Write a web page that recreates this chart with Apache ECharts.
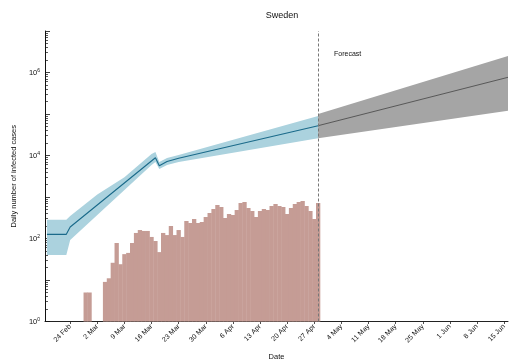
<!DOCTYPE html>
<html>
<head>
<meta charset="utf-8">
<script src="https://cdn.jsdelivr.net/npm/echarts@6/dist/echarts.min.js"></script>
<style>
  html, body { margin: 0; padding: 0; background: #fff; }
  #chart { width: 509px; height: 361px; }
</style>
</head>
<body>
<div id="chart"></div>
<script>
// Daily confirmed cases, one value per day starting at firstCaseDay (null = nothing to draw)
const firstCaseDay = '2020-02-28';
const dailyCases = [
  5, 5, null, null, null,
  9, 11, 26, 78, 24, 42, 45, 78, 136, 160,
  152, 152, 109, 87, 47, 136, 121, 200, 121, 160,
  109, 264, 236, 295, 236, 250, 330, 412, 514, 642,
  574, 312, 389, 368, 486, 717, 758, 543, 460, 330,
  460, 514, 486, 607, 678, 607, 574, 389, 543, 678,
  758, 801, 607, 460, 295, 717
];

// Fitted trend (breakpoints of the fitted curve)
const trendDates  = ['2020-02-18', '2020-02-23', '2020-02-24', '2020-03-17', '2020-03-18', '2020-03-20', '2020-03-23', '2020-04-28'];
const trendValues = [126, 126, 189, 8850, 5680, 7170, 8570, 52300];

// Uncertainty band of the fit
const bandDates = ['2020-02-18', '2020-02-23', '2020-02-24', '2020-03-02', '2020-03-09', '2020-03-16', '2020-03-17', '2020-03-18', '2020-03-20', '2020-03-23', '2020-04-28'];
const bandUpper = [284, 284, 348, 1150, 3000, 10870, 12140, 6970, 8710, 10280, 89500];
const bandLower = [40, 40, 92, 370, 1475, 5900, 6970, 4730, 5900, 6970, 25960];

// Forecast
const forecastStart = '2020-04-28';
const forecastDates = ['2020-04-28', '2020-06-16'];
const forecastMid   = [52300, 766000];
const forecastHigh  = [100000, 2500000];
const forecastLow   = [25960, 120000];

// Weekly tick labels on the date axis
const weekTicks = ['2020-02-24', '2020-03-02', '2020-03-09', '2020-03-16', '2020-03-23', '2020-03-30',
  '2020-04-06', '2020-04-13', '2020-04-20', '2020-04-27', '2020-05-04', '2020-05-11', '2020-05-18',
  '2020-05-25', '2020-06-01', '2020-06-08', '2020-06-15'];
const monthNames = ['Jan', 'Feb', 'Mar', 'Apr', 'May', 'Jun', 'Jul', 'Aug', 'Sep', 'Oct', 'Nov', 'Dec'];

const majorY = [1, 10, 100, 1e3, 1e4, 1e5, 1e6, 1e7];
const labelY = [1, 100, 1e4, 1e6];
const minorY = [];
for (let e = 0; e < 7; e++) for (let m = 2; m <= 9; m++) minorY.push(m * Math.pow(10, e));

function toTime(s) {
  const p = s.split('-').map(Number);
  return new Date(p[0], p[1] - 1, p[2]).getTime();
}
const DAY = 86400000;

const barData = dailyCases.map((v, i) => [toTime(firstCaseDay) + i * DAY, v]);
const trendData = trendDates.map((d, i) => [toTime(d), trendValues[i]]);
const forecastData = forecastDates.map((d, i) => [toTime(d), forecastMid[i]]);

function bandSeries(dates, upper, lower, color) {
  return {
    type: 'custom',
    z: 2,
    silent: true,
    data: dates.map((d, i) => [toTime(d), upper[i], lower[i]]),
    encode: { x: 0, y: [1, 2] },
    renderItem: function (params, api) {
      if (params.dataIndex !== 0) return null;
      const pts = [];
      for (let i = 0; i < dates.length; i++) pts.push(api.coord([toTime(dates[i]), upper[i]]));
      for (let i = dates.length - 1; i >= 0; i--) pts.push(api.coord([toTime(dates[i]), lower[i]]));
      return { type: 'polygon', shape: { points: pts }, style: { fill: color } };
    }
  };
}

const FONT = 'Liberation Sans, Arial, sans-serif';
const chart = echarts.init(document.getElementById('chart'), null, { renderer: 'canvas' });

chart.setOption({
  animation: false,
  backgroundColor: '#fff',
  textStyle: { fontFamily: FONT },
  title: {
    text: 'Sweden', left: 277, top: 6, textAlign: 'center',
    textStyle: { fontSize: 9, fontWeight: 'normal', color: '#111', fontFamily: FONT }
  },
  graphic: [{
    type: 'text', left: 334, top: 51,
    style: { text: 'Forecast', fontSize: 7, fill: '#111', fontFamily: FONT }
  }],
  grid: { left: 45, right: 1, top: 31, bottom: 39.5, containLabel: false, outerBoundsMode: 'none' },
  xAxis: {
    type: 'value',
    min: toTime('2020-02-17') + DAY / 2,
    max: toTime('2020-06-16'),
    axisLine: { show: true, onZero: false, lineStyle: { color: '#222', width: 1 } },
    axisTick: { show: true, customValues: weekTicks.map(toTime), length: 2.5, lineStyle: { color: '#222', width: 0.8 } },
    axisLabel: {
      customValues: weekTicks.map(toTime), rotate: 45, fontSize: 7, margin: 4, color: '#111', fontFamily: FONT,
      formatter: function (v) { const d = new Date(v); return d.getDate() + ' ' + monthNames[d.getMonth()]; }
    },
    splitLine: { show: false },
    name: 'Date', nameLocation: 'middle', nameGap: 31,
    nameTextStyle: { fontSize: 7.5, color: '#111', fontFamily: FONT }
  },
  yAxis: [{
    type: 'log', logBase: 10, min: 1, max: 1e7,
    axisLine: { show: true, lineStyle: { color: '#111', width: 1 } },
    axisTick: { show: true, inside: true, length: 5, customValues: majorY, lineStyle: { color: '#111', width: 0.8 } },
    axisLabel: {
      customValues: labelY, margin: 5, color: '#111', fontFamily: FONT,
      formatter: function (v) { return '{b|10}{s|' + Math.round(Math.log10(v)) + '}'; },
      rich: {
        b: { fontSize: 7.5, fontFamily: FONT, color: '#111' },
        s: { fontSize: 5, fontFamily: FONT, color: '#111', verticalAlign: 'top' }
      }
    },
    splitLine: { show: false },
    name: 'Daily number of infected cases', nameLocation: 'middle', nameGap: 27,
    nameTextStyle: { fontSize: 7.5, color: '#111', fontFamily: FONT }
  }, {
    type: 'log', logBase: 10, min: 1, max: 1e7, position: 'left',
    axisLine: { show: false },
    axisTick: { show: true, inside: true, length: 3, customValues: minorY, lineStyle: { color: '#111', width: 0.7 } },
    axisLabel: { show: false },
    splitLine: { show: false }
  }],
  series: [
    {
      name: 'Daily cases', type: 'bar', data: barData, barWidth: 4.3, z: 1,
      itemStyle: { color: '#c59c95' }, silent: true
    },
    bandSeries(bandDates, bandUpper, bandLower, '#abd2de'),
    bandSeries(forecastDates, forecastHigh, forecastLow, '#a5a5a5'),
    {
      name: 'Fit', type: 'line', data: trendData, z: 3, symbol: 'none', silent: true,
      lineStyle: { color: '#1a6a8a', width: 1.1 }
    },
    {
      name: 'Forecast', type: 'line', data: forecastData, z: 4, symbol: 'none', silent: true,
      lineStyle: { color: '#444', width: 0.8 },
      markLine: {
        silent: true, symbol: 'none', label: { show: false },
        lineStyle: { color: '#777', type: [3, 2], width: 1 },
        data: [{ xAxis: toTime(forecastStart) }]
      }
    }
  ]
});
</script>
</body>
</html>
